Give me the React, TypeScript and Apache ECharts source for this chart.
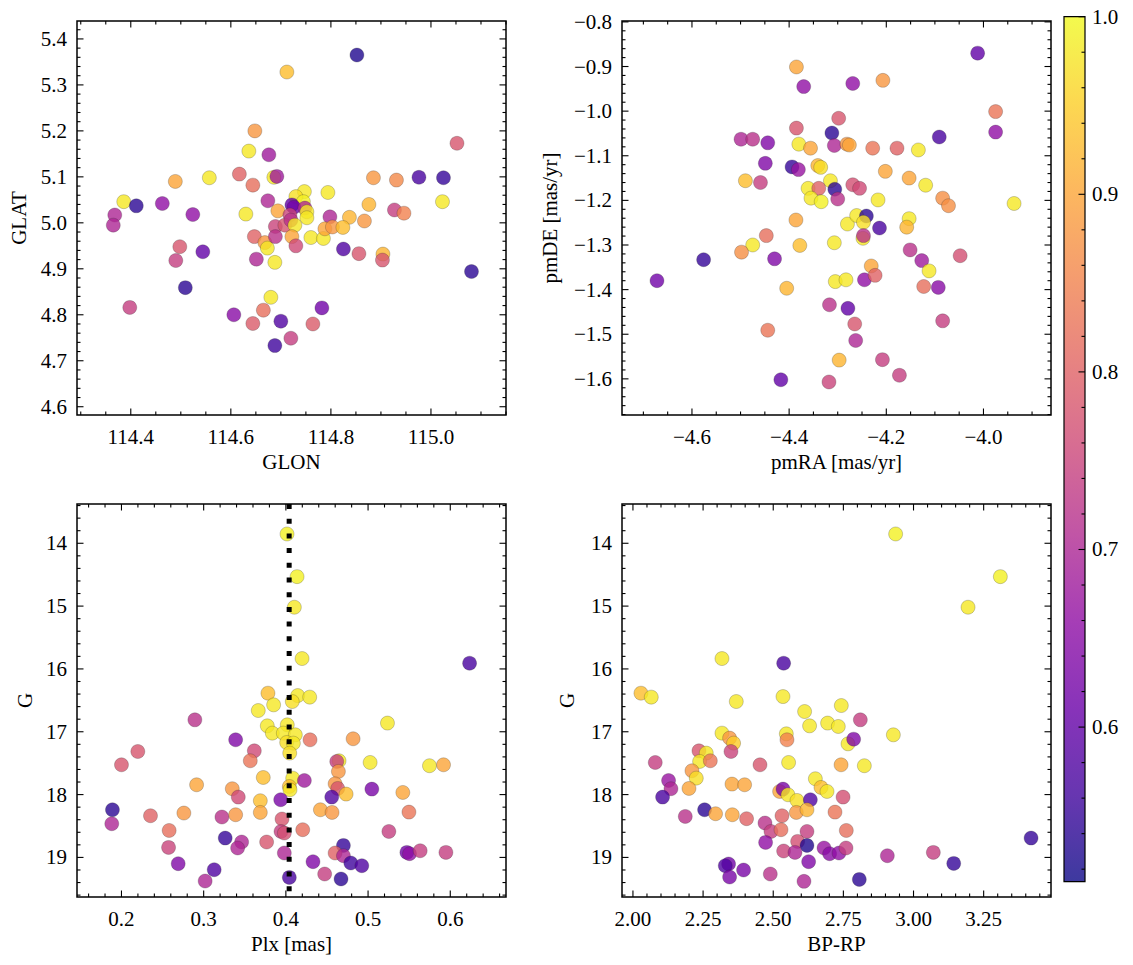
import React, { useEffect, useRef } from "react";
import * as echarts from "echarts";

// ---------- data: [x, y, membership probability] ----------
// Panel A: GLON vs GLAT
const posStars: number[][] = [
  [114.852, 5.365, 0.53], [114.712, 5.328, 0.93], [114.648, 5.2, 0.88], [114.636, 5.156, 0.98],
  [114.676, 5.148, 0.68], [115.052, 5.173, 0.78], [114.617, 5.106, 0.8], [114.644, 5.082, 0.82],
  [114.686, 5.099, 0.98], [114.692, 5.101, 0.68], [114.489, 5.09, 0.9], [114.557, 5.098, 0.98],
  [114.386, 5.046, 0.98], [114.411, 5.037, 0.54], [114.463, 5.042, 0.66], [114.368, 5.017, 0.7],
  [114.524, 5.018, 0.66], [114.885, 5.098, 0.88], [114.931, 5.093, 0.86], [114.976, 5.099, 0.57],
  [115.025, 5.098, 0.55], [115.023, 5.046, 0.98], [114.794, 5.066, 0.98], [114.876, 5.04, 0.92],
  [114.927, 5.028, 0.74], [114.946, 5.021, 0.85], [114.798, 5.013, 0.7], [114.837, 5.012, 0.92],
  [114.867, 5.004, 0.88], [114.747, 5.068, 0.98], [114.73, 5.057, 0.97], [114.745, 5.046, 0.99],
  [114.722, 5.039, 0.6], [114.726, 5.034, 0.62], [114.748, 5.032, 0.7], [114.674, 5.048, 0.7],
  [114.694, 5.026, 0.9], [114.63, 5.019, 0.98], [114.752, 5.024, 0.98], [114.718, 5.017, 0.75],
  [114.752, 5.011, 0.98], [114.365, 4.995, 0.7], [114.689, 4.992, 0.75], [114.708, 4.995, 0.78],
  [114.72, 5.006, 0.72], [114.728, 4.995, 0.98], [114.647, 4.97, 0.8], [114.668, 4.957, 0.88],
  [114.673, 4.945, 0.98], [114.689, 4.97, 0.72], [114.722, 4.97, 0.9], [114.73, 4.95, 0.76],
  [114.76, 4.968, 0.98], [114.785, 4.966, 0.98], [114.788, 4.987, 0.9], [114.803, 4.991, 0.88],
  [114.824, 4.99, 0.93], [114.498, 4.948, 0.78], [114.49, 4.918, 0.74], [114.544, 4.937, 0.6],
  [114.651, 4.921, 0.7], [114.688, 4.914, 0.98], [114.825, 4.943, 0.58], [114.856, 4.933, 0.78],
  [114.904, 4.932, 0.92], [114.903, 4.919, 0.78], [115.081, 4.894, 0.54], [114.509, 4.859, 0.54],
  [114.398, 4.816, 0.74], [114.68, 4.838, 0.98], [114.665, 4.81, 0.82], [114.606, 4.8, 0.65],
  [114.644, 4.781, 0.79], [114.7, 4.786, 0.58], [114.782, 4.815, 0.62], [114.764, 4.78, 0.79],
  [114.72, 4.749, 0.74], [114.688, 4.733, 0.56],
];

// Panel B: pmRA vs pmDE
const pmStars: number[][] = [
  [-4.012, -0.87, 0.6], [-4.385, -0.901, 0.9], [-4.37, -0.945, 0.66], [-4.269, -0.938, 0.66],
  [-4.207, -0.931, 0.88], [-3.975, -1.001, 0.83], [-3.975, -1.047, 0.66], [-4.298, -1.016, 0.78],
  [-4.385, -1.038, 0.78], [-4.312, -1.049, 0.54], [-4.499, -1.063, 0.7], [-4.475, -1.063, 0.72],
  [-4.444, -1.071, 0.64], [-4.091, -1.058, 0.57], [-4.38, -1.074, 0.98], [-4.356, -1.083, 0.9],
  [-4.307, -1.077, 0.7], [-4.281, -1.074, 0.88], [-4.276, -1.076, 0.9], [-4.228, -1.083, 0.83],
  [-4.178, -1.083, 0.8], [-4.134, -1.087, 0.98], [-4.449, -1.117, 0.64], [-4.394, -1.125, 0.55],
  [-4.381, -1.131, 0.67], [-4.341, -1.122, 0.92], [-4.335, -1.126, 0.97], [-4.202, -1.135, 0.9],
  [-4.49, -1.156, 0.93], [-4.459, -1.16, 0.74], [-4.315, -1.156, 0.98], [-4.153, -1.15, 0.9],
  [-4.119, -1.166, 0.98], [-4.361, -1.173, 0.98], [-4.339, -1.173, 0.8], [-4.306, -1.175, 0.54],
  [-4.269, -1.165, 0.77], [-4.255, -1.173, 0.76], [-4.355, -1.195, 0.98], [-4.334, -1.203, 0.99],
  [-4.3, -1.197, 0.72], [-4.217, -1.199, 0.98], [-4.084, -1.195, 0.87], [-4.072, -1.212, 0.87],
  [-3.937, -1.207, 0.98], [-4.386, -1.244, 0.9], [-4.28, -1.253, 0.98], [-4.261, -1.234, 0.98],
  [-4.241, -1.235, 0.54], [-4.247, -1.249, 0.97], [-4.153, -1.241, 0.98], [-4.158, -1.26, 0.92],
  [-4.214, -1.262, 0.57], [-4.248, -1.285, 0.98], [-4.247, -1.279, 0.72], [-4.447, -1.279, 0.82],
  [-4.475, -1.3, 0.98], [-4.498, -1.316, 0.87], [-4.378, -1.301, 0.93], [-4.307, -1.295, 0.98],
  [-4.576, -1.333, 0.55], [-4.43, -1.331, 0.64], [-4.151, -1.311, 0.72], [-4.127, -1.335, 0.68],
  [-4.048, -1.324, 0.77], [-4.112, -1.358, 0.98], [-4.672, -1.38, 0.62], [-4.405, -1.397, 0.92],
  [-4.305, -1.382, 0.98], [-4.283, -1.378, 0.98], [-4.231, -1.347, 0.9], [-4.245, -1.378, 0.66],
  [-4.223, -1.368, 0.8], [-4.123, -1.393, 0.82], [-4.093, -1.395, 0.65], [-4.317, -1.434, 0.72],
  [-4.279, -1.442, 0.6], [-4.444, -1.491, 0.83], [-4.265, -1.477, 0.78], [-4.084, -1.47, 0.74],
  [-4.263, -1.514, 0.7], [-4.297, -1.558, 0.92], [-4.208, -1.557, 0.74], [-4.173, -1.592, 0.74],
  [-4.417, -1.602, 0.6], [-4.318, -1.607, 0.75],
];

// Panel C: Plx vs G
const plxStars: number[][] = [
  [0.4014, 13.852, 0.99], [0.4136, 14.531, 0.99], [0.4103, 15.018, 0.98], [0.4197, 15.835, 0.98],
  [0.6235, 15.909, 0.57], [0.3782, 16.386, 0.93], [0.4144, 16.424, 0.98], [0.429, 16.449, 0.98],
  [0.3851, 16.572, 0.98], [0.4078, 16.519, 0.97], [0.3664, 16.662, 0.98], [0.3774, 16.906, 0.98],
  [0.4017, 16.89, 0.98], [0.3835, 17.022, 0.98], [0.3969, 17.022, 0.98], [0.4115, 17.049, 0.98],
  [0.401, 17.171, 0.97], [0.4091, 17.181, 0.98], [0.4047, 17.34, 0.97], [0.2893, 16.81, 0.72],
  [0.5236, 16.862, 0.98], [0.3389, 17.128, 0.64], [0.4294, 17.128, 0.82], [0.4818, 17.112, 0.88],
  [0.2199, 17.314, 0.78], [0.2, 17.526, 0.78], [0.3616, 17.304, 0.76], [0.3567, 17.462, 0.83],
  [0.4647, 17.462, 0.98], [0.4619, 17.473, 0.74], [0.4639, 17.632, 0.88], [0.5025, 17.489, 0.98],
  [0.5747, 17.541, 0.98], [0.5918, 17.526, 0.9], [0.3725, 17.728, 0.93], [0.4083, 17.738, 0.98],
  [0.4225, 17.776, 0.68], [0.2914, 17.844, 0.9], [0.3348, 17.907, 0.88], [0.3421, 18.04, 0.76],
  [0.4042, 17.871, 0.93], [0.405, 17.923, 0.98], [0.4599, 17.828, 0.88], [0.4631, 17.902, 0.78],
  [0.4733, 17.992, 0.93], [0.5046, 17.913, 0.63], [0.5423, 17.966, 0.9], [0.3689, 18.098, 0.93],
  [0.3937, 18.082, 0.63], [0.4558, 18.04, 0.58], [0.189, 18.242, 0.54], [0.1882, 18.464, 0.7],
  [0.2353, 18.337, 0.8], [0.2759, 18.294, 0.88], [0.3222, 18.357, 0.72], [0.3389, 18.321, 0.88],
  [0.3689, 18.284, 0.9], [0.3953, 18.389, 0.78], [0.442, 18.242, 0.9], [0.4562, 18.284, 0.88],
  [0.5497, 18.279, 0.83], [0.258, 18.571, 0.82], [0.3941, 18.587, 0.74], [0.3981, 18.612, 0.77],
  [0.4205, 18.559, 0.82], [0.5253, 18.587, 0.74], [0.3262, 18.692, 0.55], [0.3462, 18.755, 0.7],
  [0.3413, 18.85, 0.7], [0.3766, 18.755, 0.78], [0.2573, 18.841, 0.75], [0.3981, 18.93, 0.7],
  [0.47, 18.809, 0.55], [0.4599, 18.93, 0.8], [0.47, 18.973, 0.7], [0.479, 19.089, 0.56],
  [0.4924, 19.132, 0.58], [0.5472, 18.92, 0.62], [0.5504, 18.941, 0.66], [0.5634, 18.894, 0.74],
  [0.5947, 18.92, 0.74], [0.269, 19.1, 0.64], [0.3128, 19.196, 0.58], [0.3018, 19.376, 0.7],
  [0.433, 19.068, 0.64], [0.4472, 19.264, 0.74], [0.4671, 19.343, 0.54], [0.4042, 19.318, 0.57],
];

// Panel D: BP-RP vs G
const cmdStars: number[][] = [
  [2.9363, 13.852, 0.99], [3.3095, 14.531, 0.99], [3.1943, 15.018, 0.98], [2.3173, 15.835, 0.98],
  [2.5371, 15.909, 0.57], [2.0285, 16.386, 0.93], [2.0653, 16.449, 0.98], [2.3683, 16.519, 0.98],
  [2.5348, 16.44, 0.98], [2.6118, 16.678, 0.98], [2.7426, 16.583, 0.98], [2.6296, 16.906, 0.98],
  [2.6938, 16.862, 0.98], [2.7319, 16.916, 0.98], [2.8104, 16.81, 0.74], [2.9281, 17.049, 0.98],
  [2.3173, 17.022, 0.98], [2.3445, 17.101, 0.88], [2.3587, 17.181, 0.95], [2.5466, 17.033, 0.98],
  [2.549, 17.128, 0.85], [2.7665, 17.192, 0.98], [2.7866, 17.118, 0.64], [2.2353, 17.304, 0.78],
  [2.2613, 17.34, 0.98], [2.3494, 17.314, 0.75], [2.0795, 17.489, 0.74], [2.2376, 17.473, 0.98],
  [2.2757, 17.462, 0.83], [2.4528, 17.526, 0.78], [2.5548, 17.489, 0.98], [2.7418, 17.526, 0.9],
  [2.8247, 17.541, 0.98], [2.2103, 17.621, 0.88], [2.2257, 17.738, 0.97], [2.127, 17.776, 0.67],
  [2.1355, 17.907, 0.7], [2.1997, 17.902, 0.9], [2.353, 17.833, 0.9], [2.398, 17.844, 0.9],
  [2.6501, 17.748, 0.98], [2.6703, 17.886, 0.93], [2.6917, 17.95, 0.98], [2.5227, 17.95, 0.9],
  [2.5348, 17.913, 0.63], [2.5526, 18.003, 0.98], [2.5847, 18.093, 0.97], [2.6323, 18.082, 0.58],
  [2.7489, 18.04, 0.77], [2.1056, 18.04, 0.57], [2.2553, 18.242, 0.54], [2.2945, 18.305, 0.9],
  [2.3541, 18.321, 0.9], [2.1865, 18.348, 0.72], [2.405, 18.384, 0.8], [2.5312, 18.337, 0.8],
  [2.5822, 18.284, 0.88], [2.6203, 18.242, 0.92], [2.7201, 18.279, 0.83], [2.4706, 18.453, 0.72],
  [2.492, 18.587, 0.74], [2.5277, 18.559, 0.82], [2.6203, 18.587, 0.74], [2.7604, 18.571, 0.82],
  [2.4728, 18.761, 0.66], [2.5869, 18.745, 0.77], [2.6203, 18.809, 0.53], [2.5371, 18.898, 0.75],
  [2.5776, 18.92, 0.7], [2.681, 18.85, 0.67], [2.701, 18.941, 0.65], [2.7344, 18.93, 0.66],
  [2.7594, 18.85, 0.74], [2.6262, 19.068, 0.64], [2.9067, 18.973, 0.7], [3.0706, 18.92, 0.74],
  [3.1433, 19.095, 0.55], [3.4189, 18.692, 0.55], [2.3409, 19.105, 0.62], [2.329, 19.132, 0.58],
  [2.3445, 19.312, 0.63], [2.3943, 19.201, 0.63], [2.4895, 19.264, 0.72], [2.6096, 19.381, 0.7],
  [2.8068, 19.35, 0.54],
];

// reference parallax (dotted line)
const plxRef = 0.404;

// ---------- tick labels ----------
const glonTicks = [114.4, 114.6, 114.8, 115.0];
const glatTicks = [4.6, 4.7, 4.8, 4.9, 5.0, 5.1, 5.2, 5.3, 5.4];
const pmraTicks = [-4.6, -4.4, -4.2, -4.0];
const pmdeTicks = [-1.6, -1.5, -1.4, -1.3, -1.2, -1.1, -1.0, -0.9, -0.8];
const plxTicks = [0.2, 0.3, 0.4, 0.5, 0.6];
const gTicks = [14, 15, 16, 17, 18, 19];
const bprpTicks = [2.0, 2.25, 2.5, 2.75, 3.0, 3.25];
const cbarTicks = [0.6, 0.7, 0.8, 0.9, 1.0];

const probMin = 0.513;
const probMax = 1.0;

const plasma = [
  "#0d0887", "#41049d", "#6a00a8", "#8f0da4", "#b12a90", "#cc4778",
  "#e16462", "#f2844b", "#fca636", "#fcce25", "#f0f921",
];

const FONT = "'Liberation Serif', 'DejaVu Serif', serif";
const FS = 21;

type PanelCfg = {
  grid: { left: number; top: number; width: number; height: number };
  data: number[][];
  xr: [number, number];
  yr: [number, number];
  xTicks: number[];
  yTicks: number[];
  xMinor: number;
  yMinor: number;
  xDec: number;
  yDec: number;
  xName: string;
  yName: string;
  yNameGap: number;
  yInverse: boolean;
};

const panels: PanelCfg[] = [
  {
    grid: { left: 77, top: 21, width: 429, height: 394 },
    data: posStars, xr: [114.2925, 115.15], yr: [4.582, 5.439],
    xTicks: glonTicks, yTicks: glatTicks, xMinor: 0.05, yMinor: 0.02,
    xDec: 1, yDec: 1, xName: "GLON", yName: "GLAT", yNameGap: 48, yInverse: false,
  },
  {
    grid: { left: 622, top: 21, width: 429, height: 394 },
    data: pmStars, xr: [-4.744, -3.861], yr: [-1.681, -0.798],
    xTicks: pmraTicks, yTicks: pmdeTicks, xMinor: 0.05, yMinor: 0.02,
    xDec: 1, yDec: 1, xName: "pmRA [mas/yr]", yName: "pmDE [mas/yr]", yNameGap: 62, yInverse: false,
  },
  {
    grid: { left: 77, top: 504, width: 429, height: 393 },
    data: plxStars, xr: [0.1459, 0.6678], yr: [13.375, 19.63],
    xTicks: plxTicks, yTicks: gTicks, xMinor: 0.02, yMinor: 0.2,
    xDec: 1, yDec: 0, xName: "Plx [mas]", yName: "G", yNameGap: 42, yInverse: true,
  },
  {
    grid: { left: 622, top: 504, width: 429, height: 393 },
    data: cmdStars, xr: [1.961, 3.49], yr: [13.375, 19.63],
    xTicks: bprpTicks, yTicks: gTicks, xMinor: 0.05, yMinor: 0.2,
    xDec: 2, yDec: 0, xName: "BP-RP", yName: "G", yNameGap: 45, yInverse: true,
  },
];

const fmt = (v: number, d: number) => v.toFixed(d).replace("-", "\u2212");

function minorValues(r: [number, number], step: number, majors: number[]) {
  const out: number[] = [];
  const start = Math.ceil(r[0] / step - 1e-9);
  const end = Math.floor(r[1] / step + 1e-9);
  for (let k = start; k <= end; k++) {
    const v = +(k * step).toFixed(6);
    if (majors.some((m) => Math.abs(m - v) < step * 0.1)) continue;
    out.push(v);
  }
  return out;
}

function tickItems(p: PanelCfg) {
  const items: number[][] = [];
  p.xTicks.forEach((v) => items.push([v, p.yr[0], 0, 1]));
  minorValues(p.xr, p.xMinor, p.xTicks).forEach((v) => items.push([v, p.yr[0], 0, 0]));
  p.yTicks.forEach((v) => items.push([p.xr[0], v, 1, 1]));
  minorValues(p.yr, p.yMinor, p.yTicks).forEach((v) => items.push([p.xr[0], v, 1, 0]));
  return items;
}

const renderTicks = (params: any, api: any) => {
  const cs = params.coordSys;
  const dim = api.value(2);
  const len = api.value(3) ? 6.5 : 3.5;
  const pt = api.coord([api.value(0), api.value(1)]);
  const st = { stroke: "#000", lineWidth: 1.1 };
  if (dim === 0) {
    const x = pt[0];
    return {
      type: "group",
      children: [
        { type: "line", shape: { x1: x, y1: cs.y + cs.height, x2: x, y2: cs.y + cs.height - len }, style: st },
        { type: "line", shape: { x1: x, y1: cs.y, x2: x, y2: cs.y + len }, style: st },
      ],
    };
  }
  const y = pt[1];
  return {
    type: "group",
    children: [
      { type: "line", shape: { x1: cs.x, y1: y, x2: cs.x + len, y2: y }, style: st },
      { type: "line", shape: { x1: cs.x + cs.width, y1: y, x2: cs.x + cs.width - len, y2: y }, style: st },
    ],
  };
};

function buildOption() {
  const textStyle = { fontFamily: FONT, fontSize: FS, color: "#000" };
  const grid = panels.map((p) => ({
    ...p.grid,
    show: true,
    borderColor: "#000",
    borderWidth: 1.5,
    backgroundColor: "transparent",
    containLabel: false,
  }));
  const xAxis = panels.map((p, i) => ({
    type: "value",
    gridIndex: i,
    min: p.xr[0],
    max: p.xr[1],
    axisLine: { show: false },
    axisTick: { show: false },
    splitLine: { show: false },
    axisLabel: {
      customValues: p.xTicks,
      margin: 11,
      formatter: (v: number) => fmt(v, p.xDec),
      ...textStyle,
    },
    name: p.xName,
    nameLocation: "middle",
    nameGap: 36,
    nameTextStyle: textStyle,
  }));
  const yAxis = panels.map((p, i) => ({
    type: "value",
    gridIndex: i,
    min: p.yr[0],
    max: p.yr[1],
    inverse: p.yInverse,
    axisLine: { show: false },
    axisTick: { show: false },
    splitLine: { show: false },
    axisLabel: {
      customValues: p.yTicks,
      margin: 10,
      formatter: (v: number) => fmt(v, p.yDec),
      ...textStyle,
    },
    name: p.yName,
    nameLocation: "middle",
    nameGap: p.yNameGap,
    nameRotate: 90,
    nameTextStyle: textStyle,
  }));

  const scatter = panels.map((p, i) => ({
    type: "scatter",
    xAxisIndex: i,
    yAxisIndex: i,
    data: p.data,
    symbolSize: 14,
    itemStyle: { opacity: 0.8, borderColor: "rgba(40,40,40,0.6)", borderWidth: 0.5 },
    z: 2,
  }));
  const ticks = panels.map((p, i) => ({
    type: "custom",
    xAxisIndex: i,
    yAxisIndex: i,
    data: tickItems(p),
    renderItem: renderTicks,
    silent: true,
    clip: false,
    z: 4,
  }));
  const refLine = {
    type: "line",
    xAxisIndex: 2,
    yAxisIndex: 2,
    data: [
      [plxRef, panels[2].yr[0]],
      [plxRef, panels[2].yr[1]],
    ],
    symbol: "none",
    lineStyle: { color: "#000", width: 5, type: [5, 9.7], cap: "butt" },
    silent: true,
    z: 5,
  };

  // colorbar
  const cbX = 1064, cbTop = 16.7, cbW = 21, cbBottom = 881.6;
  const cbY = (v: number) => cbTop + ((probMax - v) / (probMax - probMin)) * (cbBottom - cbTop);
  const stops = plasma.map((c, k) => ({ offset: k / (plasma.length - 1), color: c }));
  const cbElems: any[] = [
    {
      type: "rect",
      shape: { x: cbX, y: cbTop, width: cbW, height: cbBottom - cbTop },
      style: { fill: new echarts.graphic.LinearGradient(0, 1, 0, 0, stops), opacity: 0.8 },
    },
    {
      type: "rect",
      shape: { x: cbX, y: cbTop, width: cbW, height: cbBottom - cbTop },
      style: { fill: "none", stroke: "#000", lineWidth: 1.2 },
    },
  ];
  minorValues([probMin, probMax], 0.02, cbarTicks).forEach((v) => {
    const y = cbY(v);
    cbElems.push({ type: "line", shape: { x1: cbX + cbW, y1: y, x2: cbX + cbW - 3.5, y2: y }, style: { stroke: "#000", lineWidth: 1.1 } });
  });
  cbarTicks.forEach((v) => {
    const y = cbY(v);
    cbElems.push({ type: "line", shape: { x1: cbX + cbW, y1: y, x2: cbX + cbW - 6.5, y2: y }, style: { stroke: "#000", lineWidth: 1.1 } });
    cbElems.push({
      type: "text",
      style: { text: v.toFixed(1), x: cbX + cbW + 7, y, font: `${FS}px ${FONT}`, fill: "#000", align: "left", verticalAlign: "middle" },
    });
  });

  return {
    animation: false,
    backgroundColor: "#fff",
    grid,
    xAxis,
    yAxis,
    visualMap: {
      type: "continuous",
      show: false,
      min: probMin,
      max: probMax,
      dimension: 2,
      seriesIndex: [0, 1, 2, 3],
      inRange: { color: plasma },
    },
    series: [...scatter, ...ticks, refLine],
    graphic: cbElems,
  };
}

export default function App() {
  const ref = useRef<HTMLDivElement>(null);
  useEffect(() => {
    if (!ref.current) return;
    const chart = echarts.init(ref.current, null, { renderer: "svg" });
    chart.setOption(buildOption() as any);
    return () => chart.dispose();
  }, []);
  return (
    <div
      ref={ref}
      style={{ position: "absolute", left: 0, top: 0, width: 1133, height: 965, background: "#fff" }}
    />
  );
}
